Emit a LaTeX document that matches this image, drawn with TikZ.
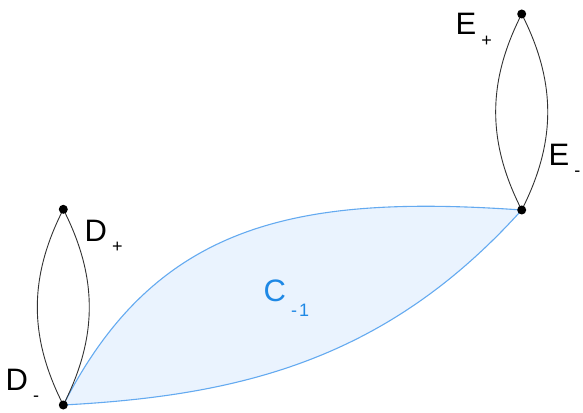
\documentclass[tikz,border=0pt]{standalone}
\usepackage{fontspec}
\setmainfont{Liberation Sans}
\usepackage{tikz}
\usetikzlibrary{arrows.meta, positioning, calc}
\definecolor{lensblue}{RGB}{100, 170, 240}
\definecolor{lensfill}{RGB}{234, 243, 254}
\definecolor{labelblue}{RGB}{30, 136, 229}
\definecolor{arcgray}{RGB}{50, 50, 50}
\newcommand{\sublab}[3]{#1\hspace{5pt}\raisebox{-#3pt}{\fontsize{18}{18}\selectfont #2}}

\begin{document}
\begin{tikzpicture}[x=1pt, y=1pt,
    dot/.style={fill=black},
    arc/.style={arcgray, line width=0.9pt},
    lens/.style={draw=lensblue, fill=lensfill, line width=1.1pt},
    lab/.style={anchor=base west, inner sep=0pt, font=\fontsize{31}{31}\selectfont}]
    \useasboundingbox (0,0) rectangle (583,412);

    % Points
    \coordinate (Ep) at (521.7, 398);
    \coordinate (Em) at (521.7, 202);
    \coordinate (Dp) at (63.3, 202.7);
    \coordinate (Dm) at (63.3, 7);

    % Blue lens C_{-1}
    \filldraw[lens] (Dm) .. controls +(63:205) and +(176:225) .. (Em)
        .. controls +(228:200) and +(3:180) .. (Dm) -- cycle;

    % Black lenses
    \draw[arc] (Ep) to[bend left=27] (Em);
    \draw[arc] (Ep) to[bend right=27] (Em);
    \draw[arc] (Dp) to[bend left=27] (Dm);
    \draw[arc] (Dp) to[bend right=27] (Dm);

    % Dots
    \foreach \p in {Ep, Em, Dp, Dm}
        \fill[dot] (\p) circle (4.5);

    % Labels
    \node[lab] (lEp) at (455.5, 377) {\sublab{E}{+}{12}};
    \node[lab] (lEm) at (548.5, 246) {\sublab{E}{-}{11}};
    \node[lab] (lDp) at (84.5, 170.3) {\sublab{D}{+}{11}};
    \node[lab] (lDm) at (5.5, 22) {\sublab{D}{-}{11}};
    \node[lab, labelblue] (lC) at (263.5, 110) {\sublab{C}{-\hspace{2pt}1}{15}};

\end{tikzpicture}
\end{document}
